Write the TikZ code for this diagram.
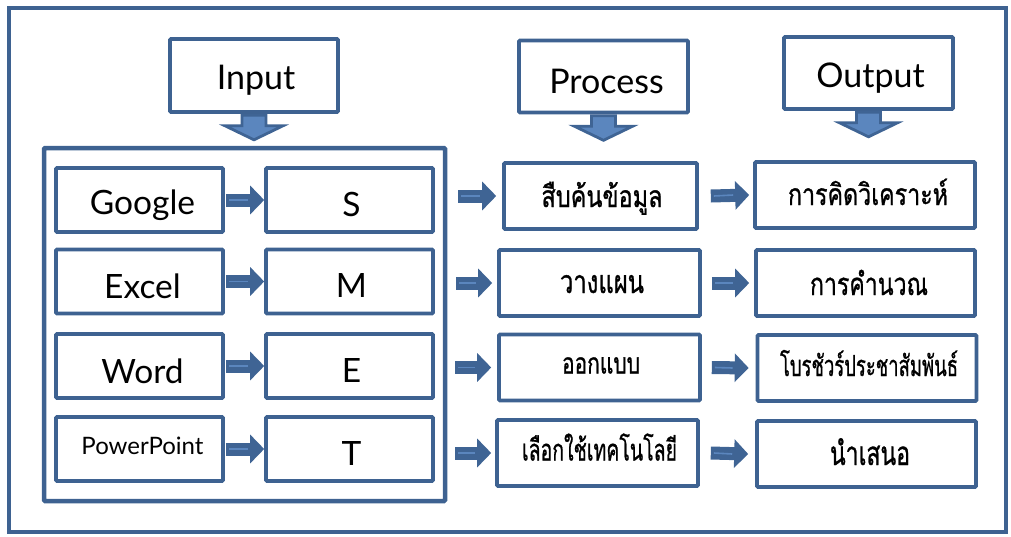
\documentclass[tikz,border=0pt]{standalone}
\usepackage{fontspec}
\usepackage{graphicx}
\setmainfont{Lato}
\newfontfamily\thai[Script=Thai, FakeBold=1.0]{Loma}
\usetikzlibrary{calc,arrows.meta}
\definecolor{boxc}{HTML}{3E6291}
\definecolor{arrc}{HTML}{3F6494}
\definecolor{arrl}{HTML}{5B86BE}
\newcommand\thw[3]{\resizebox{#1pt}{\height}{\thai\fontsize{#2}{#2}\selectfont #3}}
\tikzset{
  bx/.style={draw=boxc, line width=3.6pt, fill=white, rounded corners=1pt, inner sep=0pt, align=center},
  blk/.style={draw=arrc, line width=13pt, -{Triangle[length=14pt,width=28pt]}},
  stripe/.style={draw=arrl, line width=1.6pt},
}
\newcommand\harrow[2]{%
  \draw[blk] #1 -- #2;
  \draw[stripe] ($#1+(3,0)$) -- ($#2+(-16,0)$);
}
\newcommand\dnarrow[1]{%
  \draw[draw=arrc, fill=arrl, line width=2.8pt, line join=miter]
    ($(#1)+(-12,1.5)$) -- ($(#1)+(12,1.5)$) -- ($(#1)+(12,12)$) -- ($(#1)+(29,12)$)
    -- ($(#1)+(0,26)$) -- ($(#1)+(-29,12)$) -- ($(#1)+(-12,12)$) -- cycle;
}
\begin{document}
\begin{tikzpicture}[x=1pt,y=-1pt]
\useasboundingbox (0,0) rectangle (1011,536);
\draw[boxc, line width=4.5pt] (9,8) rectangle (1006,532);
% titles
\node[bx, minimum width=168, minimum height=73] (tin) at (254,75.5) {};
\node[bx, minimum width=169, minimum height=72] (tpr) at (603.5,76.5) {};
\node[bx, minimum width=169, minimum height=72] (tou) at (868.5,73) {};
\node[font=\fontsize{34}{40}\selectfont, inner sep=0pt] (tinl) at ($(tin.center)+(2,5)$) {Input};
\node[font=\fontsize{34}{40}\selectfont, inner sep=0pt] (tprl) at ($(tpr.center)+(3,5)$) {Process};
\node[font=\fontsize{34}{40}\selectfont, inner sep=0pt] (toul) at ($(tou.center)+(2,5)$) {Output};
\dnarrow{tin.south}
\dnarrow{tpr.south}
\dnarrow{tou.south}
% big input box
\node[draw=boxc, line width=4.5pt, rounded corners=1pt, minimum width=401, minimum height=353, inner sep=0pt] (big) at (244.5,324.5) {};
% left column
\tikzset{lc/.style={bx, minimum width=167, minimum height=64},
  lt/.style={font=\fontsize{33.5}{40}\selectfont, inner sep=0pt}}
\node[lc] (g1) at (139.5,200) {};
\node[lc] (g2) at (139.5,281.5) {};
\node[lc] (g3) at (139.5,366) {};
\node[lc] (g4) at (139.5,449) {};
\node[lt] (g1l) at ($(g1.center)+(3,5)$) {Google};
\node[lt] (g2l) at ($(g2.center)+(3,5)$) {Excel};
\node[lt] (g3l) at ($(g3.center)+(3,5)$) {Word};
\node[lt, font=\fontsize{24}{29}\selectfont] (g4l) at ($(g4.center)+(3,-3)$) {PowerPoint};
\node[lc] (s1) at (349.5,200) {};
\node[lc] (s2) at (349.5,281.5) {};
\node[lc] (s3) at (349.5,366) {};
\node[lc] (s4) at (349.5,449) {};
\node[lt] (s1l) at ($(s1.center)+(2,4)$) {S};
\node[lt] (s2l) at ($(s2.center)+(2,4)$) {M};
\node[lt] (s3l) at ($(s3.center)+(2,4)$) {E};
\node[lt] (s4l) at ($(s4.center)+(2,4)$) {T};
% process
\tikzset{pc/.style={bx, minimum height=66}}
\node[pc, minimum width=193] (p1) at (600.5,196) {};
\node[pc, minimum width=201] (p2) at (599.5,283) {};
\node[pc, minimum width=201] (p3) at (599.5,367.5) {};
\node[pc, minimum width=201] (p4) at (597.5,453) {};
\node[inner sep=0pt, anchor=base] (p1l) at ($(p1.center)+(1.5,11)$) {\thw{121}{30}{สืบค้นข้อมูล}};
\node[inner sep=0pt, anchor=base] (p2l) at ($(p2.center)+(2.5,10)$) {\thw{84}{32}{วางแผน}};
\node[inner sep=0pt, anchor=base] (p3l) at ($(p3.center)+(1.5,6)$) {\thw{78}{29}{ออกแบบ}};
\node[inner sep=0pt, anchor=base] (p4l) at ($(p4.center)+(2,7.5)$) {\thw{155}{30}{เลือกใช้เทคโนโลยี}};
% output
\tikzset{oc/.style={bx, minimum height=66, minimum width=219}}
\node[oc, minimum width=220] (o1) at (865,195) {};
\node[oc] (o2) at (865.5,283) {};
\node[oc] (o3) at (867,368) {};
\node[oc] (o4) at (866.5,454) {};
\node[inner sep=0pt, anchor=base] (o1l) at ($(o1.center)+(3,10)$) {\thw{160}{30}{การคิดวิเคราะห์}};
\node[inner sep=0pt, anchor=base] (o2l) at ($(o2.center)+(3.5,12)$) {\thw{118}{31}{การคำนวณ}};
\node[inner sep=0pt, anchor=base] (o3l) at ($(o3.center)+(2,8)$) {\thw{178}{29}{โบรชัวร์ประชาสัมพันธ์}};
\node[inner sep=0pt, anchor=base] (o4l) at ($(o4.center)+(3.5,11)$) {\thw{80}{33}{นำเสนอ}};
% arrows inside input box
\harrow{([xshift=1]g1.east)}{([xshift=0]s1.west)}
\harrow{([xshift=1]g2.east)}{([xshift=0]s2.west)}
\harrow{([xshift=1]g3.east)}{([xshift=0]s3.west)}
\harrow{([xshift=1]g4.east)}{([xshift=0]s4.west)}
% big box to process
\harrow{([xshift=11]big.east |- p1.west)}{([xshift=-6]p1.west)}
\harrow{([xshift=9]big.east |- p2.west)}{([xshift=-5]p2.west)}
\harrow{([xshift=8]big.east |- p3.west)}{([xshift=-6]p3.west)}
\harrow{([xshift=8]big.east |- p4.west)}{([xshift=-4]p4.west)}
% process to output
\harrow{([xshift=12]p1.east)}{([xshift=-4]o1.west)}
\harrow{([xshift=10]p2.east)}{([xshift=-5]o2.west)}
\harrow{([xshift=10]p3.east)}{([xshift=-7]o3.west)}
\harrow{([xshift=11]p4.east)}{([xshift=-7]o4.west)}
\end{tikzpicture}
\end{document}
